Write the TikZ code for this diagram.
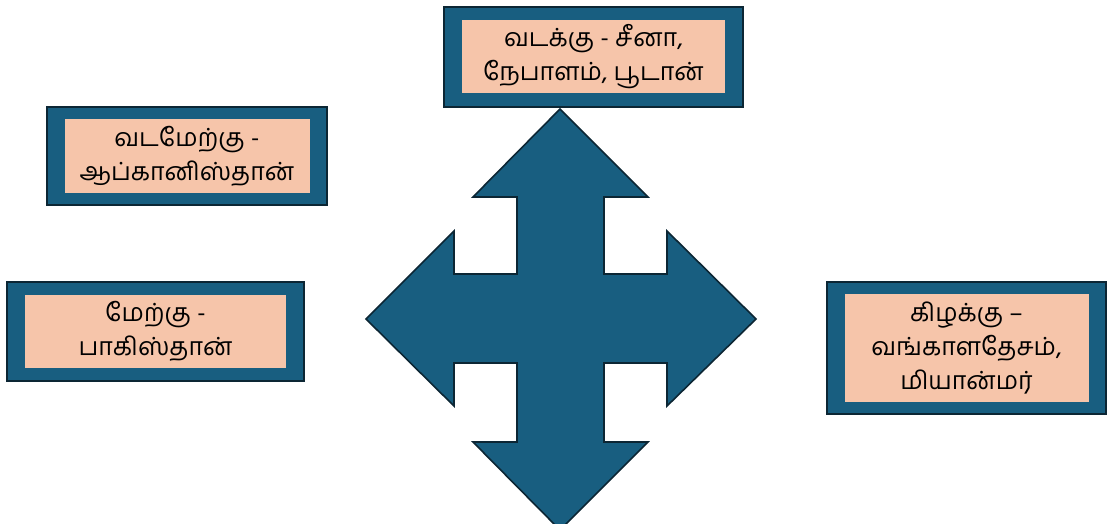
\documentclass[tikz,border=0pt]{standalone}
\usepackage{fontspec}
\newfontfamily\tamilfont[Script=Tamil]{Hind Madurai}
\usetikzlibrary{positioning}
\definecolor{boxblue}{RGB}{24,94,128}
\definecolor{boxedge}{RGB}{12,38,52}
\definecolor{boxpeach}{RGB}{246,197,170}

\tikzset{
  outerbox/.style={draw=boxedge, line width=2.4pt, fill=boxblue, inner sep=0pt},
  innerbox/.style={fill=boxpeach, inner sep=0pt, align=center,
    font=\tamilfont\fontsize{25}{34}\selectfont}
}

\begin{document}
\begin{tikzpicture}[x=1pt,y=-1pt]
        \useasboundingbox (0,0) rectangle (1110,524);
        % Four-way cross arrow
        \draw[boxedge, line width=1.6pt, fill=boxblue, line join=miter]
          (560,109) -- (648,197) -- (604,197) -- (604,274) -- (667,274) -- (667,231)
          -- (756,319) -- (667,406) -- (667,363) -- (604,363) -- (604,442) -- (648,442)
          -- (560,530) -- (473,442) -- (517,442) -- (517,363) -- (454,363) -- (454,406)
          -- (366,319) -- (454,231) -- (454,274) -- (517,274) -- (517,197) -- (473,197) -- cycle;
        % North
        \node[outerbox, minimum width=299pt, minimum height=100pt] (north) at (593.5,57) {};
        \node[innerbox, minimum width=263pt, minimum height=73pt] (northtxt) at (north.center)
          {வடக்கு - சீனா,\\நேபாளம், பூடான்};
        % North-west
        \node[outerbox, minimum width=280pt, minimum height=98pt] (nwest) at (187,156) {};
        \node[innerbox, minimum width=245pt, minimum height=73pt] (nwesttxt) at (nwest.center)
          {வடமேற்கு -\\ஆப்கானிஸ்தான்};
        % West
        \node[outerbox, minimum width=297pt, minimum height=99pt] (west) at (155.5,331.5) {};
        \node[innerbox, minimum width=261pt, minimum height=73pt] (westtxt) at (west.center)
          {மேற்கு -\\பாகிஸ்தான்};
        % East
        \node[outerbox, minimum width=279pt, minimum height=132pt] (east) at (966.5,348) {};
        \node[innerbox, minimum width=244pt, minimum height=108pt] (easttxt) at (east.center)
          {கிழக்கு –\\வங்காளதேசம்,\\மியான்மர்};
\end{tikzpicture}
\end{document}
